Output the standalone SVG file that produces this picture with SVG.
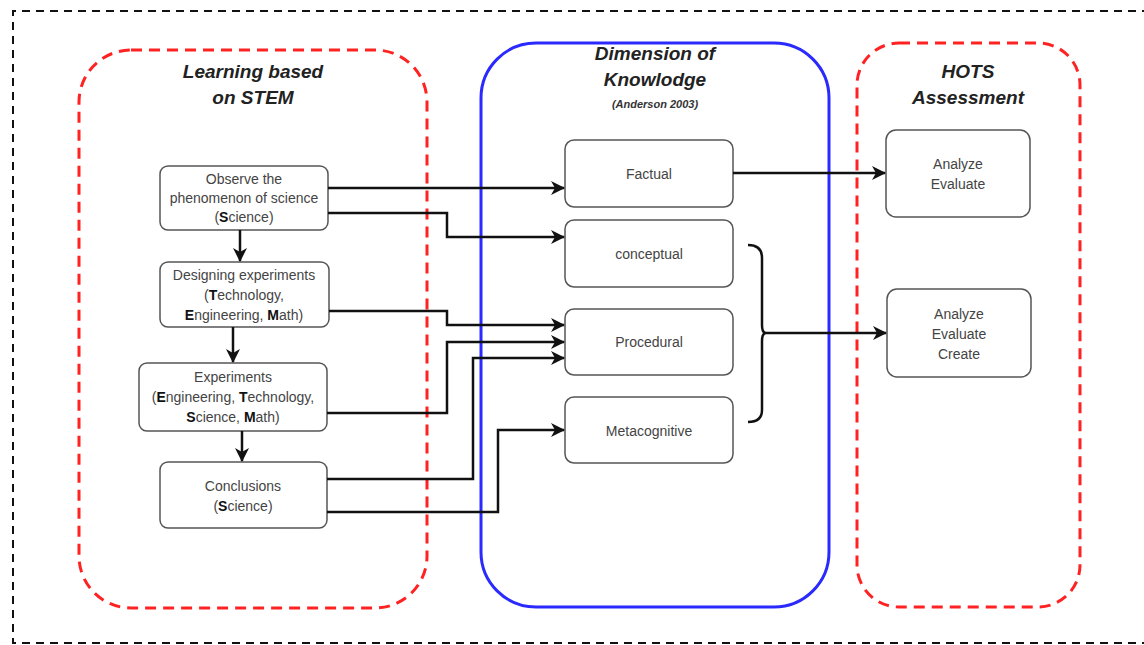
<svg xmlns="http://www.w3.org/2000/svg" width="1144" height="645" viewBox="0 0 1144 645">
<style>
.title{font-family:"Liberation Sans",Arial,sans-serif;font-weight:bold;font-style:italic;font-size:19px;fill:#222;text-anchor:middle}
.sub{font-family:"Liberation Sans",Arial,sans-serif;font-weight:bold;font-style:italic;font-size:11px;fill:#333;text-anchor:middle}
.node rect{fill:#fff;stroke:#555;stroke-width:1.5}
.node text{font-family:"Liberation Sans",Arial,sans-serif;font-size:14px;fill:#444;text-anchor:middle}
.red{fill:none;stroke:#f22;stroke-width:3;stroke-dasharray:11 7}
.conn path{fill:none;stroke:#111;stroke-width:2.5}
</style>
<defs>
<marker id="ah" markerWidth="14" markerHeight="14" refX="13" refY="7" orient="auto" markerUnits="userSpaceOnUse" viewBox="0 0 14 14">
<path d="M0,0 L14,7 L0,14 L4,7 Z" fill="#111"/>
</marker>
</defs>
<rect width="1144" height="645" fill="#fff"/>
<path d="M1150,11 H13 V643 H1150" fill="none" stroke="#111" stroke-width="2" stroke-dasharray="8 6"/>

<g id="stem-container">
<rect class="red" x="79" y="50" width="348" height="558" rx="52"/>
<text class="title" x="253" y="78">Learning based</text>
<text class="title" x="253" y="104">on STEM</text>
</g>
<g id="knowledge-container">
<rect x="481" y="43" width="348" height="564" rx="55" fill="none" stroke="#2a2aff" stroke-width="3"/>
<text class="title" x="655" y="60">Dimension of</text>
<text class="title" x="655" y="86">Knowlodge</text>
<text class="sub" x="655" y="108">(Anderson 2003)</text>
</g>
<g id="hots-container">
<rect class="red" x="857" y="43" width="223" height="564" rx="42"/>
<text class="title" x="968" y="78">HOTS</text>
<text class="title" x="968" y="104">Assessment</text>
</g>

<g id="observe" class="node">
<rect x="160" y="166" width="168" height="64" rx="8"/>
<text x="244" y="184">Observe the</text>
<text x="244" y="203">phenomenon of science</text>
<text x="244" y="222">(<tspan font-weight="bold" fill="#111">S</tspan>cience)</text>
</g>
<g id="designing" class="node">
<rect x="160" y="262" width="169" height="65" rx="8"/>
<text x="244" y="280">Designing experiments</text>
<text x="244" y="300">(<tspan font-weight="bold" fill="#111">T</tspan>echnology,</text>
<text x="244" y="320"><tspan font-weight="bold" fill="#111">E</tspan>ngineering, <tspan font-weight="bold" fill="#111">M</tspan>ath)</text>
</g>
<g id="experiments" class="node">
<rect x="139" y="363" width="188" height="68" rx="8"/>
<text x="233" y="382">Experiments</text>
<text x="233" y="402">(<tspan font-weight="bold" fill="#111">E</tspan>ngineering, <tspan font-weight="bold" fill="#111">T</tspan>echnology,</text>
<text x="233" y="422"><tspan font-weight="bold" fill="#111">S</tspan>cience, <tspan font-weight="bold" fill="#111">M</tspan>ath)</text>
</g>
<g id="conclusions" class="node">
<rect x="160" y="462" width="167" height="66" rx="8"/>
<text x="243" y="491">Conclusions</text>
<text x="243" y="511">(<tspan font-weight="bold" fill="#111">S</tspan>cience)</text>
</g>

<g id="factual" class="node">
<rect x="565" y="140" width="168" height="67" rx="9"/>
<text x="649" y="179">Factual</text>
</g>
<g id="conceptual" class="node">
<rect x="565" y="220" width="168" height="67" rx="9"/>
<text x="649" y="259">conceptual</text>
</g>
<g id="procedural" class="node">
<rect x="565" y="309" width="168" height="66" rx="9"/>
<text x="649" y="347">Procedural</text>
</g>
<g id="metacognitive" class="node">
<rect x="565" y="397" width="168" height="66" rx="9"/>
<text x="649" y="436">Metacognitive</text>
</g>

<g id="analyze-evaluate" class="node">
<rect x="886" y="130" width="144" height="87" rx="10"/>
<text x="958" y="169">Analyze</text>
<text x="958" y="189">Evaluate</text>
</g>
<g id="analyze-evaluate-create" class="node">
<rect x="887" y="289" width="144" height="88" rx="10"/>
<text x="959" y="319">Analyze</text>
<text x="959" y="339">Evaluate</text>
<text x="959" y="359">Create</text>
</g>

<g id="connectors" class="conn">
<path d="M240,230 V261" marker-end="url(#ah)"/>
<path d="M233,327 V362" marker-end="url(#ah)"/>
<path d="M242,431 V461" marker-end="url(#ah)"/>
<path d="M328,188 H564" marker-end="url(#ah)"/>
<path d="M328,213 H447 V237 H564" marker-end="url(#ah)"/>
<path d="M329,311 H447 V325 H564" marker-end="url(#ah)"/>
<path d="M327,413 H447 V342 H564" marker-end="url(#ah)"/>
<path d="M327,479 H473 V358 H564" marker-end="url(#ah)"/>
<path d="M327,512 H498 V430 H564" marker-end="url(#ah)"/>
<path d="M733,173 H885" marker-end="url(#ah)"/>
<path d="M748,245 Q762,245 762,258 V325 Q762,333 766,333 Q762,333 762,341 V410 Q762,422 748,422" stroke-width="2"/>
<path d="M766,333 H886" marker-end="url(#ah)"/>
</g>
</svg>
